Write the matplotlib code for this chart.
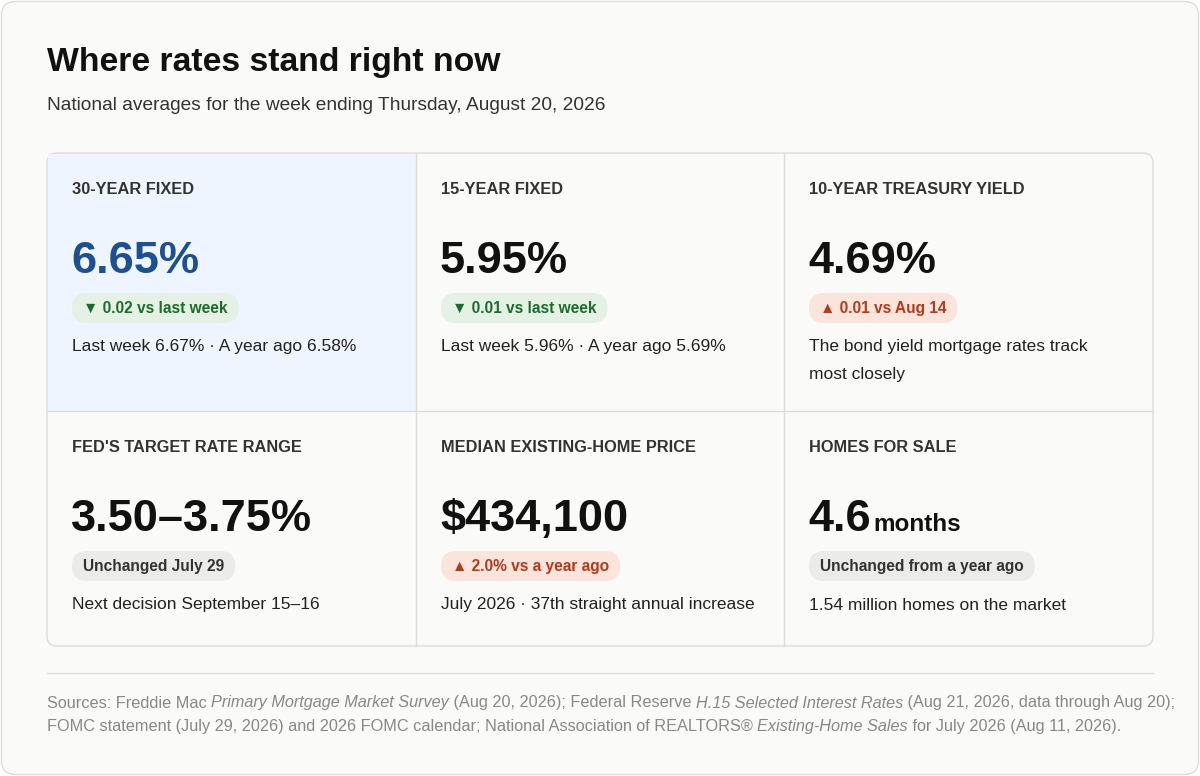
import matplotlib.pyplot as plt
from matplotlib.patches import FancyBboxPatch, Rectangle

plt.rcParams['font.family'] = ['Liberation Sans', 'DejaVu Sans']

title = "Where rates stand right now"
subtitle = "National averages for the week ending Thursday, August 20, 2026"

labels = ["30-YEAR FIXED", "15-YEAR FIXED", "10-YEAR TREASURY YIELD",
          "FED'S TARGET RATE RANGE", "MEDIAN EXISTING-HOME PRICE", "HOMES FOR SALE"]
values = ["6.65%", "5.95%", "4.69%", "3.50\u20133.75%", "$434,100", "4.6"]
value_units = ["", "", "", "", "", "months"]
badges = ["\u25bc 0.02 vs last week", "\u25bc 0.01 vs last week", "\u25b2 0.01 vs Aug 14",
          "Unchanged July 29", "\u25b2 2.0% vs a year ago", "Unchanged from a year ago"]
badge_kind = ["down", "down", "up", "flat", "up", "flat"]
notes = ["Last week 6.67% \u00b7 A year ago 6.58%",
         "Last week 5.96% \u00b7 A year ago 5.69%",
         "The bond yield mortgage rates track\nmost closely",
         "Next decision September 15\u201316",
         "July 2026 \u00b7 37th straight annual increase",
         "1.54 million homes on the market"]

sources = [
    [("Sources: Freddie Mac ", "normal"), ("Primary Mortgage Market Survey", "italic"),
     (" (Aug 20, 2026); Federal Reserve ", "normal"), ("H.15 Selected Interest Rates", "italic"),
     (" (Aug 21, 2026, data through Aug 20);", "normal")],
    [("FOMC statement (July 29, 2026) and 2026 FOMC calendar; National Association of REALTORS\u00ae ", "normal"),
     ("Existing-Home Sales", "italic"), (" for July 2026 (Aug 11, 2026).", "normal")],
]

badge_colors = {"down": ("#e5f1e4", "#1c6b2c"),
                "up": ("#fbe4dc", "#b33b1c"),
                "flat": ("#ebebe9", "#333333")}

fig = plt.figure(figsize=(12, 7.76), dpi=100)
fig.patch.set_facecolor("white")
ax = fig.add_axes([0, 0, 1, 1])
ax.set_xlim(0, 1200)
ax.set_ylim(776, 0)
ax.axis("off")

# outer card
ax.add_patch(FancyBboxPatch((1.5, 1.5), 1197, 773, boxstyle="round,pad=0,rounding_size=14",
                            fc="#fafaf8", ec="#dddddd", lw=1))

ax.text(47, 62, title, fontsize=24.3, fontweight="bold", color="#111111", va="center")
ax.text(47, 106, subtitle, fontsize=13.8, color="#333333", va="center")

# grid
gx0, gx1, gy0, gy1 = 47, 1153, 153, 646
cols = [gx0, 416, 784, gx1]
rows = [gy0, 411, gy1]
ax.add_patch(FancyBboxPatch((gx0, gy0), gx1 - gx0, gy1 - gy0, boxstyle="round,pad=0,rounding_size=10",
                            fc="#fafaf8", ec="#dcdcdc", lw=1, zorder=1))
ax.add_patch(Rectangle((gx0 + 1, gy0 + 1), cols[1] - gx0 - 1, rows[1] - gy0 - 1,
                       fc="#eef5fe", ec="none", zorder=1.5))
for x in cols[1:3]:
    ax.plot([x, x], [gy0, gy1], color="#dcdcdc", lw=1, zorder=2)
ax.plot([gx0, gx1], [rows[1], rows[1]], color="#dcdcdc", lw=1, zorder=2)

fig.canvas.draw()
rend = fig.canvas.get_renderer()


def width_px(t):
    return t.get_window_extent(rend).width


for i in range(6):
    c, r = i % 3, i // 3
    x = cols[c] + 25
    y = rows[r]
    ax.text(x, y + 37, labels[i], fontsize=11.8, fontweight="bold", color="#333333", va="center")
    vc = "#1d4f91" if i == 0 else "#111111"
    vt = ax.text(x - 1, y + 120, values[i], fontsize=32.5, fontweight="bold", color=vc,
                 va="baseline")
    if value_units[i]:
        ax.text(x - 1 + width_px(vt) + 3, y + 120, value_units[i], fontsize=17.5,
                fontweight="bold", color="#111111", va="baseline")
    bg, fgc = badge_colors[badge_kind[i]]
    bt = ax.text(x + 11, y + 155, badges[i], fontsize=11.2, fontweight="bold", color=fgc,
                 va="center", zorder=4)
    w = width_px(bt)
    ax.add_patch(FancyBboxPatch((x, y + 140), w + 22, 30, boxstyle="round,pad=0,rounding_size=15",
                                fc=bg, ec="none", zorder=3))
    for k, line in enumerate(notes[i].split("\n")):
        ax.text(x, y + 194 + 27 * k, line, fontsize=12.5, color="#222222", va="center")

ax.plot([47, 1153], [673, 673], color="#dddddd", lw=1)

for li, line in enumerate(sources):
    x = 47
    y = 703 + li * 23
    for seg, style in line:
        t = ax.text(x, y, seg, fontsize=11.7, style=style, color="#888888", va="center")
        x += width_px(t)

fig.savefig("out.png", dpi=100, facecolor="white")
